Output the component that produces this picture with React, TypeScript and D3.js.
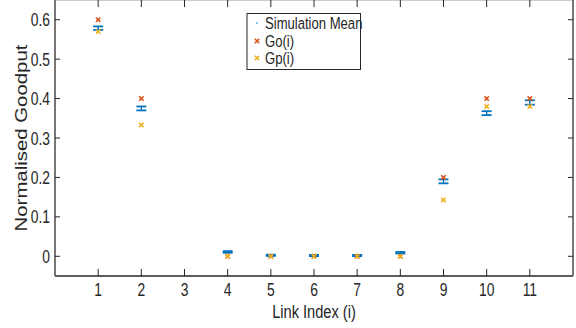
import React from "react";
import * as d3 from "d3";

const links = [1, 2, 3, 4, 5, 6, 7, 8, 9, 10, 11];
const meanVals = [0.5785, 0.375, NaN, 0.011, 0.0025, 0.002, 0.002, 0.009, 0.19, 0.363, 0.39];
const errVals = [0.0045, 0.005, NaN, 0.002, 0.0015, 0.0015, 0.0015, 0.002, 0.005, 0.005, 0.0055];
const goVals = [0.6, 0.4, NaN, 0, 0, 0, 0, 0, 0.2, 0.4, 0.4];
const gpVals = [0.57, 0.333, NaN, 0, 0, 0, 0, 0, 0.143, 0.38, 0.38];
const yTicks = [0, 0.1, 0.2, 0.3, 0.4, 0.5, 0.6];
const legendLabels = ["Simulation Mean", "Go(i)", "Gp(i)"];

const W = 576;
const H = 328;
const L = 55, R = 573, T = 0, B = 276;
const SX = 0.77;
const FONT = "'Liberation Sans', Arial, Helvetica, sans-serif";
const BLUE = "#0072BD";
const RED = "#D95319";
const YEL = "#EDB120";
const AX = "#262626";

const x = d3.scaleLinear().domain([0, 12]).range([L, R]);
const y = d3.scaleLinear().domain([-0.05, 0.65]).range([B, T]);

function XMark({ cx, cy, color }: { cx: number; cy: number; color: string }) {
  const s = 2.2;
  const p = d3.path();
  p.moveTo(cx - s, cy - s);
  p.lineTo(cx + s, cy + s);
  p.moveTo(cx - s, cy + s);
  p.lineTo(cx + s, cy - s);
  return <path d={p.toString()} stroke={color} strokeWidth={1.6} fill="none" />;
}

function SText({ x0, y0, anchor, size, children, rotate }: any) {
  const tr = rotate
    ? `translate(${x0},${y0}) scale(${SX},1) rotate(-90)`
    : `translate(${x0},${y0}) scale(${SX},1)`;
  return (
    <g transform={tr}>
      <text x={0} y={0} textAnchor={anchor} fontSize={size} fontFamily={FONT} fill={AX}>
        {children}
      </text>
    </g>
  );
}

export default function App() {
  const capW = 5;
  return (
    <div style={{ position: "absolute", left: 0, top: 0 }}>
      <svg width={W} height={H} style={{ display: "block", background: "#fff" }}>
        {/* axes box */}
        <line x1={L} y1={T + 0.5} x2={R} y2={T + 0.5} stroke="#ccc" strokeWidth={1} />
        <line x1={L} y1={B} x2={R} y2={B} stroke={AX} strokeWidth={1.6} />
        <line x1={L} y1={T} x2={L} y2={B} stroke="#555" strokeWidth={1.6} />
        <line x1={R} y1={T} x2={R} y2={B} stroke="#555" strokeWidth={1.6} />
        {/* x ticks */}
        {links.map((d) => (
          <g key={"xt" + d}>
            <line x1={x(d)} x2={x(d)} y1={B} y2={B - 7} stroke={AX} strokeWidth={1} />
            <line x1={x(d)} x2={x(d)} y1={T} y2={T + 7} stroke={AX} strokeWidth={1} />
            <SText x0={x(d)} y0={296} anchor="middle" size={18}>
              {d}
            </SText>
          </g>
        ))}
        {/* y ticks */}
        {yTicks.map((d) => (
          <g key={"yt" + d}>
            <line x1={L} x2={L + 5} y1={y(d)} y2={y(d)} stroke={AX} strokeWidth={1} />
            <line x1={R} x2={R - 5} y1={y(d)} y2={y(d)} stroke={AX} strokeWidth={1} />
            <SText x0={50} y0={y(d) + 6.5} anchor="end" size={18}>
              {d === 0 ? "0" : d.toFixed(1)}
            </SText>
          </g>
        ))}
        {/* axis labels */}
        <SText x0={x(6)} y0={318} anchor="middle" size={19}>
          Link Index (i)
        </SText>
        <SText x0={27} y0={(T + B) / 2} anchor="middle" size={20.4} rotate>
          Normalised Goodput
        </SText>
        {/* error bars */}
        {links.map((d, i) => {
          const m = meanVals[i];
          if (isNaN(m)) return null;
          const e = errVals[i];
          const cx = x(d);
          return (
            <g key={"eb" + d}>
              <line x1={cx} x2={cx} y1={y(m - e)} y2={y(m + e)} stroke={BLUE} strokeWidth={1} />
              <line x1={cx - capW} x2={cx + capW} y1={y(m - e)} y2={y(m - e)} stroke={BLUE} strokeWidth={1.8} />
              <line x1={cx - capW} x2={cx + capW} y1={y(m + e)} y2={y(m + e)} stroke={BLUE} strokeWidth={1.8} />
              <circle cx={cx} cy={y(m)} r={0.8} fill={BLUE} />
            </g>
          );
        })}
        {links.map((d, i) =>
          isNaN(goVals[i]) ? null : <XMark key={"go" + d} cx={x(d)} cy={y(goVals[i])} color={RED} />
        )}
        {links.map((d, i) =>
          isNaN(gpVals[i]) ? null : <XMark key={"gp" + d} cx={x(d)} cy={y(gpVals[i])} color={YEL} />
        )}
        {/* legend */}
        <rect x={247} y={13.5} width={113.5} height={56} fill="#fff" stroke={AX} strokeWidth={1} />
        <circle cx={257} cy={23} r={0.8} fill={BLUE} />
        <XMark cx={257} cy={41} color={RED} />
        <XMark cx={257} cy={58} color={YEL} />
        {legendLabels.map((t, i) => (
          <SText key={t} x0={265} y0={29 + i * 17.5} anchor="start" size={17}>
            {t}
          </SText>
        ))}
      </svg>
    </div>
  );
}
